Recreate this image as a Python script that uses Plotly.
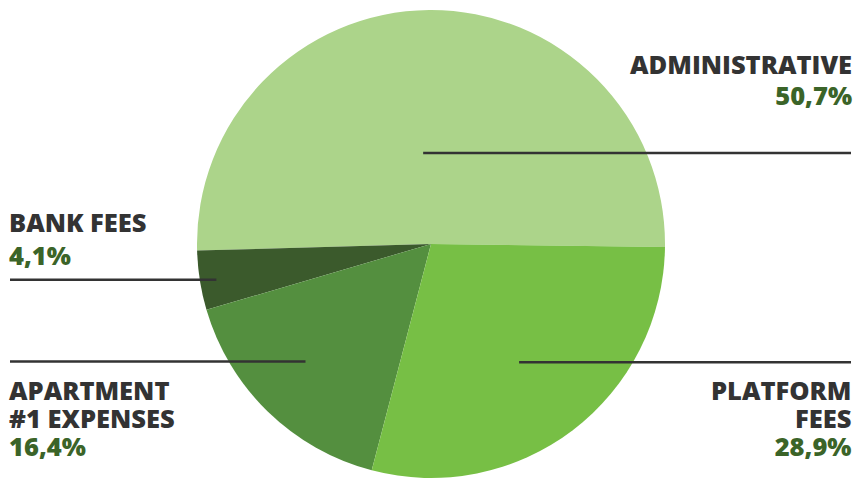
import math
import plotly.graph_objects as go

categories = ["ADMINISTRATIVE", "BANK FEES", "APARTMENT<br>#1 EXPENSES", "PLATFORM<br>FEES"]
values = [50.7, 4.1, 16.4, 28.9]
pct_labels = ["50,7%", "4,1%", "16,4%", "28,9%"]
colors = ["#acd48a", "#3b5a2c", "#548f3f", "#77bf45"]

W, H = 853, 479
cx, cy, R = 431, 244, 234
rotation = -91.6

fig = go.Figure(go.Pie(
    labels=categories, values=values, sort=False, direction="counterclockwise",
    rotation=rotation, marker=dict(colors=colors, line=dict(width=0)),
    textinfo="none", hoverinfo="label+percent", showlegend=False,
    domain=dict(x=[(cx - R) / W, (cx + R) / W], y=[1 - (cy + R) / H, 1 - (cy - R) / H]),
))

# leader line / label styling (not data)
inner_frac = [0.39, 0.93, 0.735, 0.63]
angle_offset = [4.5, 0.5, -2.7, -0.6]
outer_x = [851, 10, 10, 851]
text_x = [853, 8, 8, 853]
block_center_y = [79, 238.5, 417.5, 417.5]
line_gap = [31, 32.5, 28, 28]
sides = ["right", "left", "left", "right"]
glyph_size = 25.5

total = sum(values)
start = 90 - rotation - values[0] / total * 360  # math angle of first slice's ccw start
acc = 0
for i, v in enumerate(values):
    mid = start + (acc + v / 2) / total * 360 + angle_offset[i]
    acc += v
    a = math.radians(mid)
    px = cx + inner_frac[i] * R * math.cos(a)
    py = cy - inner_frac[i] * R * math.sin(a)
    fig.add_shape(type="line", xref="paper", yref="paper",
                  x0=px / W, y0=1 - py / H, x1=outer_x[i] / W, y1=1 - py / H,
                  line=dict(color="#333333", width=2.5))
    name_lines = categories[i].split("<br>")
    parts = [f"<span style='font-size:{glyph_size}px'>{t}</span>" for t in name_lines]
    parts.append(f"<span style='font-size:{glyph_size}px;color:#3b6428'>{pct_labels[i]}</span>")
    fig.add_annotation(
        xref="paper", yref="paper", x=text_x[i] / W, y=1 - block_center_y[i] / H,
        xanchor=sides[i], yanchor="middle", align=sides[i], showarrow=False,
        text="<br>".join(parts), borderpad=0,
        font=dict(family="Open Sans", size=line_gap[i] / 1.3, weight=800, color="#333333"),
    )

fig.update_layout(width=W, height=H, margin=dict(l=0, r=0, t=0, b=0),
                  paper_bgcolor="white", plot_bgcolor="white")
fig.write_html("out.html")
